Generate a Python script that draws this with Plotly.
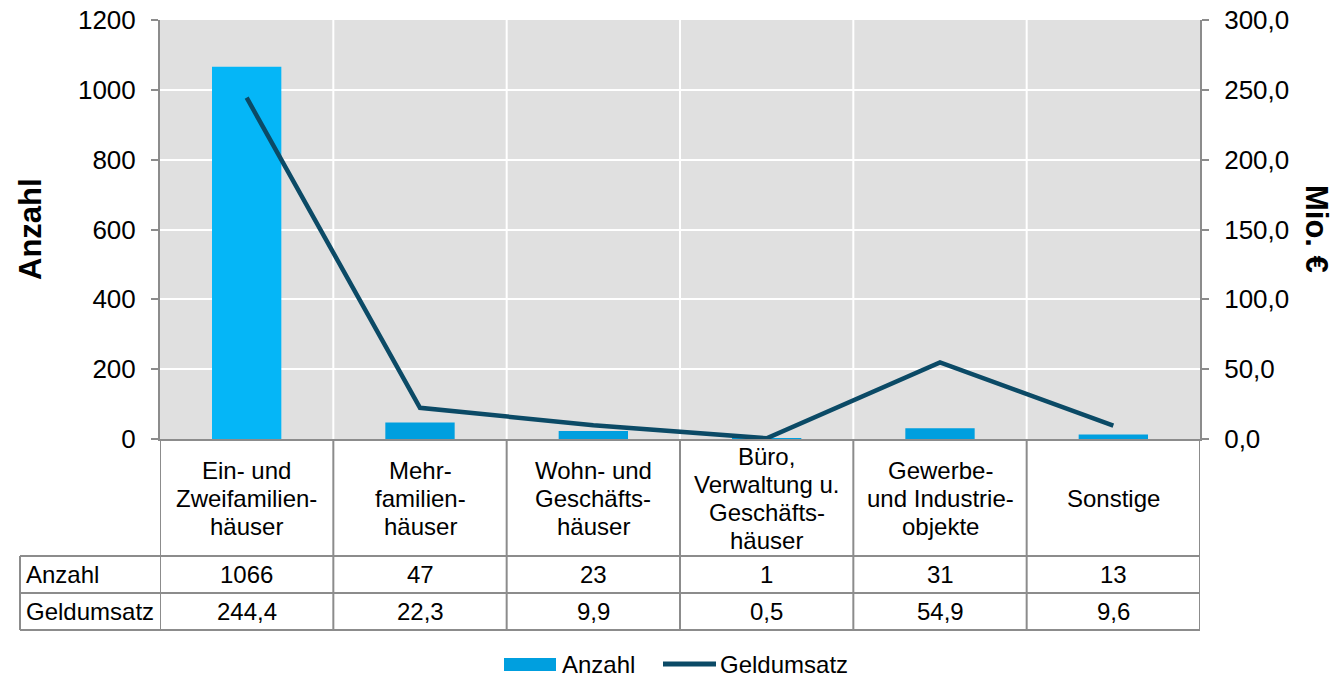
import plotly.graph_objects as go

categories = ["Ein- und<br>Zweifamilien-<br>häuser", "Mehr-<br>familien-<br>häuser",
              "Wohn- und<br>Geschäfts-<br>häuser", "Büro,<br>Verwaltung u.<br>Geschäfts-<br>häuser",
              "Gewerbe-<br>und Industrie-<br>objekte", "Sonstige"]
anzahl = [1066, 47, 23, 1, 31, 13]
geldumsatz = [244.4, 22.3, 9.9, 0.5, 54.9, 9.6]
row_labels = ["Anzahl", "Geldumsatz"]
left_ticks = [0, 200, 400, 600, 800, 1000, 1200]
right_ticks = [0, 50, 100, 150, 200, 250, 300]

FONT = "Liberation Sans, Arial, sans-serif"
GRAY = "#8c8c8c"
BAR_MAIN = "#009fdf"
LINE_COL = "#0b4a66"
bar_colors = ["#05b6f7"] + [BAR_MAIN] * (len(anzahl) - 1)

VW, VH = 1336, 677
L, R, T, B = 160, 1200, 20, 439
PH = B - T
PW = R - L
W, H = VW, VH

def py(y):
    return (B - y) / PH

def px(x):
    return (x - L) / PW

n = len(categories)
xs = list(range(n))

fig = go.Figure()
fig.add_trace(go.Bar(x=xs, y=anzahl, name="Anzahl", marker_color=bar_colors,
                     marker_line_width=0, width=0.4, yaxis="y", showlegend=False))
fig.add_trace(go.Scatter(x=xs, y=geldumsatz, name="Geldumsatz", mode="lines",
                         line=dict(color=LINE_COL, width=4.5), yaxis="y2", showlegend=False))

shapes = []
for i in range(1, n):
    shapes.append(dict(type="line", xref="x", yref="paper", x0=i - 0.5, x1=i - 0.5,
                       y0=0, y1=1, line=dict(color="white", width=2), layer="below"))
for i in range(n + 1):
    shapes.append(dict(type="line", xref="x", yref="paper", x0=i - 0.5, x1=i - 0.5,
                       y0=0, y1=py(630), line=dict(color=GRAY, width=2)))
shapes.append(dict(type="line", xref="paper", yref="paper", x0=px(20), x1=px(20),
                   y0=py(556), y1=py(630), line=dict(color=GRAY, width=2)))
for yy in (556, 593, 630):
    shapes.append(dict(type="line", xref="paper", yref="paper", x0=px(20), x1=1,
                       y0=py(yy), y1=py(yy), line=dict(color=GRAY, width=2)))

TF = 24
annotations = []
LINE_SP = 28
for i, c in enumerate(categories):
    parts = c.split("<br>")
    k = len(parts)
    for j, part in enumerate(parts):
        yy = 498.5 + (j - (k - 1) / 2) * LINE_SP
        annotations.append(dict(x=i, y=py(yy), xref="x", yref="paper", text=part,
                                showarrow=False, xanchor="center", yanchor="middle",
                                font=dict(size=TF, color="black")))
    annotations.append(dict(x=i, y=py(574.5), xref="x", yref="paper", text=str(anzahl[i]),
                            showarrow=False, xanchor="center", yanchor="middle",
                            font=dict(size=TF, color="black")))
    annotations.append(dict(x=i, y=py(611.5), xref="x", yref="paper",
                            text=f"{geldumsatz[i]:.1f}".replace(".", ","),
                            showarrow=False, xanchor="center", yanchor="middle",
                            font=dict(size=TF, color="black")))
for lbl, yy in zip(row_labels, (574.5, 611.5)):
    annotations.append(dict(x=px(24), y=py(yy), xref="paper", yref="paper", text=lbl,
                            showarrow=False, xanchor="left", yanchor="middle",
                            font=dict(size=TF, color="black")))
annotations.append(dict(x=px(30), y=py(229), xref="paper", yref="paper", text="<b>Anzahl</b>",
                        showarrow=False, textangle=-90, xanchor="center", yanchor="middle",
                        font=dict(size=31, color="black")))
annotations.append(dict(x=px(1317), y=py(229), xref="paper", yref="paper", text="<b>Mio. €</b>",
                        showarrow=False, textangle=90, xanchor="center", yanchor="middle",
                        font=dict(size=31, color="black")))

# legend drawn from the trace names
LEG_Y = 664
shapes.append(dict(type="rect", xref="paper", yref="paper", x0=px(504), x1=px(556),
                   y0=py(671), y1=py(658), fillcolor=BAR_MAIN, line=dict(width=0)))
shapes.append(dict(type="line", xref="paper", yref="paper", x0=px(663), x1=px(716),
                   y0=py(LEG_Y), y1=py(LEG_Y), line=dict(color=LINE_COL, width=5)))
annotations.append(dict(x=px(560), y=py(LEG_Y), xref="paper", yref="paper",
                        text=fig.data[0].name, showarrow=False, xanchor="left",
                        yanchor="middle", font=dict(size=TF, color="black")))
annotations.append(dict(x=px(718), y=py(LEG_Y), xref="paper", yref="paper",
                        text=fig.data[1].name, showarrow=False, xanchor="left",
                        yanchor="middle", font=dict(size=TF, color="black")))

fig.update_layout(
    width=W, height=H,
    margin=dict(l=L, r=W - R, t=T, b=H - B, pad=0, autoexpand=False),
    paper_bgcolor="white", plot_bgcolor="#e0e0e0",
    font=dict(family=FONT, size=TF, color="black"),
    separators=",.",
    showlegend=False,
    xaxis=dict(type="linear", range=[-0.5, n - 0.5], showticklabels=False, showgrid=False,
               zeroline=False, showline=True, linecolor=GRAY, linewidth=2, ticks=""),
    yaxis=dict(range=[0, 1200], tickvals=left_ticks, showgrid=True, gridcolor="white",
               gridwidth=2, zeroline=False, showline=True, linecolor=GRAY, linewidth=2,
               ticks="outside", ticklen=7, tickcolor=GRAY, tickwidth=2,
               tickfont=dict(size=26), ticklabelstandoff=10, ticklabeloverflow="allow"),
    yaxis2=dict(range=[0, 300], tickvals=right_ticks, tickformat=".1f", overlaying="y",
                side="right", showgrid=False, zeroline=False, showline=True, linecolor=GRAY,
                linewidth=2, ticks="outside", ticklen=7, tickcolor=GRAY, tickwidth=2,
                tickfont=dict(size=26), ticklabelstandoff=10, ticklabeloverflow="allow"),
    shapes=shapes, annotations=annotations,
)

fig.write_html("out.html", config={"displayModeBar": False},
               post_script="document.body.style.margin='0';document.body.style.overflow='hidden';")
